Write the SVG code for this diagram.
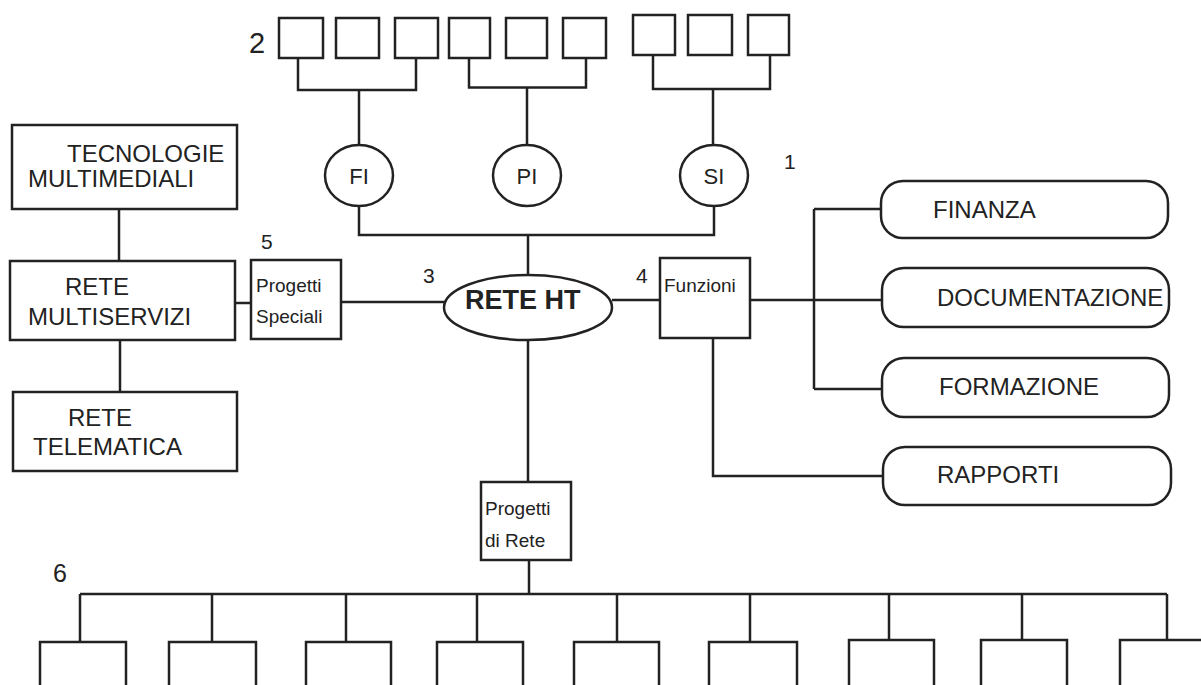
<svg xmlns="http://www.w3.org/2000/svg" width="1201" height="685" viewBox="0 0 1201 685">
<style>
.b{fill:#fff;stroke:#222;stroke-width:2.5}
.l{fill:none;stroke:#222;stroke-width:2.5}
.t{font-family:"Liberation Sans",Arial,sans-serif;font-size:24px;fill:#222}
.c{font-family:"Liberation Sans",Arial,sans-serif;font-size:22px;fill:#222;text-anchor:middle}
.s{font-family:"Liberation Sans",Arial,sans-serif;font-size:19px;fill:#222}
.n{font-family:"Liberation Sans",Arial,sans-serif;font-size:21px;fill:#222}
</style>
<rect width="1201" height="685" fill="#fff"/>
<g id="connectors" class="l">
<path d="M298 58V90H416V58M359 90V145"/>
<path d="M469 58V87.5H586V58M527 87.5V145"/>
<path d="M653 55V89H770V55M713 89V145"/>
<path d="M359 206V235H714V206M528 235V275"/>
<path d="M119 209V261M120 340V392M235 303H251M341 302H444"/>
<path d="M612 300H660M750 300H882M814 209V389M814 209H881M814 389H882"/>
<path d="M713 338V476H883"/>
<path d="M528 340V482M529 560V594M80 594H1167"/>
<path d="M80 594V642M212 594V642M346 594V642M477 594V642M617 594V642M750 594V642M889 594V640M1022 594V640M1167 594V640"/>
</g>
<g id="top-boxes" class="b">
<rect x="279" y="18" width="44" height="40"/>
<rect x="336" y="18" width="43" height="40"/>
<rect x="395" y="18" width="43" height="40"/>
<rect x="449" y="18" width="41" height="40"/>
<rect x="506" y="18" width="41" height="40"/>
<rect x="563" y="18" width="43" height="40"/>
<rect x="633" y="15" width="42" height="40"/>
<rect x="688" y="15" width="44" height="40"/>
<rect x="748" y="15" width="41" height="40"/>
</g>
<g id="FI"><ellipse class="b" cx="359" cy="175.5" rx="34" ry="30.5"/><text class="c" x="359" y="184">FI</text></g>
<g id="PI"><ellipse class="b" cx="527" cy="175.5" rx="34" ry="30.5"/><text class="c" x="527" y="184">PI</text></g>
<g id="SI"><ellipse class="b" cx="714" cy="175.5" rx="34" ry="30.5"/><text class="c" x="714" y="184">SI</text></g>
<g id="labels">
<text class="n" x="249" y="53" style="font-size:29px">2</text>
<text class="n" x="784" y="169">1</text>
<text class="n" x="423" y="283">3</text>
<text class="n" x="636" y="283">4</text>
<text class="n" x="261" y="249">5</text>
<text class="n" x="53" y="582" style="font-size:25px">6</text>
</g>
<g id="tecnologie"><rect class="b" x="12" y="125" width="225" height="84"/><text class="t" x="67" y="162">TECNOLOGIE</text><text class="t" x="28" y="187">MULTIMEDIALI</text></g>
<g id="multiservizi"><rect class="b" x="10" y="261" width="225" height="79"/><text class="t" x="65" y="295">RETE</text><text class="t" x="28" y="325">MULTISERVIZI</text></g>
<g id="telematica"><rect class="b" x="13" y="392" width="224" height="79"/><text class="t" x="68" y="426">RETE</text><text class="t" x="33" y="455">TELEMATICA</text></g>
<g id="progetti-speciali"><rect class="b" x="251" y="260" width="90" height="79"/><text class="s" x="256" y="292">Progetti</text><text class="s" x="256" y="323">Speciali</text></g>
<g id="rete-ht"><ellipse class="b" cx="528" cy="307.5" rx="84" ry="32.5"/><text class="t" x="465" y="309" style="font-size:27px;font-weight:bold">RETE HT</text></g>
<g id="funzioni"><rect class="b" x="660" y="258" width="90" height="80"/><text class="s" x="664" y="292">Funzioni</text></g>
<g id="finanza"><rect class="b" x="881" y="181" width="287" height="57" rx="22"/><text class="t" x="933" y="218">FINANZA</text></g>
<g id="documentazione"><rect class="b" x="882" y="268" width="287" height="59" rx="22"/><text class="t" x="937" y="306">DOCUMENTAZIONE</text></g>
<g id="formazione"><rect class="b" x="882" y="358" width="287" height="59" rx="22"/><text class="t" x="939" y="395">FORMAZIONE</text></g>
<g id="rapporti"><rect class="b" x="883" y="447" width="288" height="58" rx="22"/><text class="t" x="937" y="483">RAPPORTI</text></g>
<g id="progetti-rete"><rect class="b" x="481" y="482" width="90" height="78"/><text class="s" x="485" y="515">Progetti</text><text class="s" x="485" y="547">di Rete</text></g>
<g id="bottom-boxes" class="b">
<rect x="40" y="642" width="86" height="46"/>
<rect x="169" y="642" width="87" height="46"/>
<rect x="306" y="642" width="85" height="46"/>
<rect x="437" y="642" width="86" height="46"/>
<rect x="574" y="642" width="85" height="46"/>
<rect x="709" y="642" width="88" height="46"/>
<rect x="849" y="640" width="85" height="48"/>
<rect x="981" y="640" width="86" height="48"/>
<rect x="1120" y="640" width="90" height="48"/>
</g>
</svg>
